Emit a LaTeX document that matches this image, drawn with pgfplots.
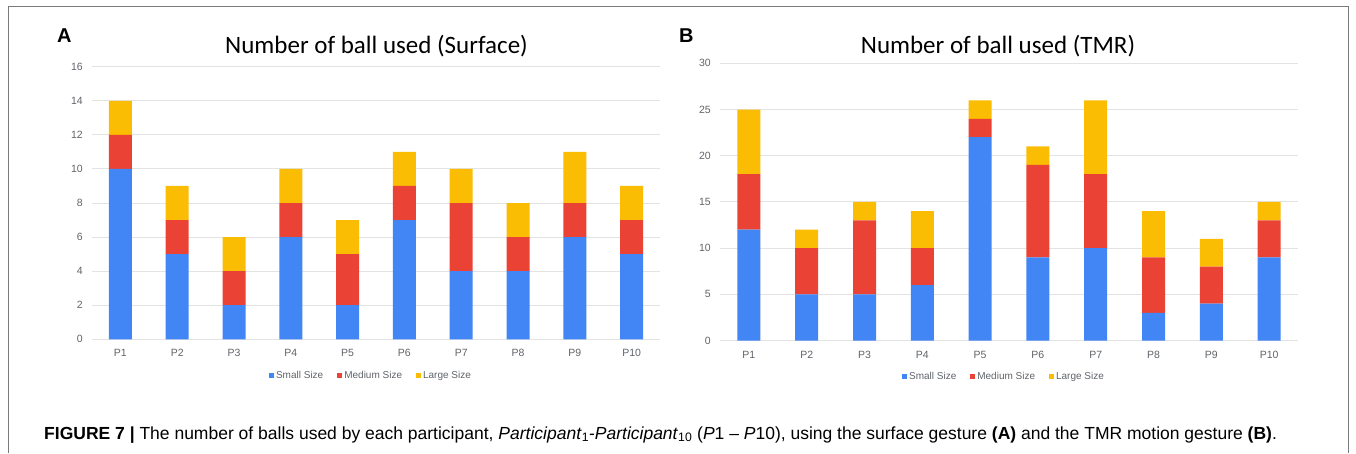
\documentclass[border=0pt]{standalone}
\usepackage{fontspec}
\setmainfont{Liberation Sans}
\newfontfamily\titlefont{Carlito}
\usepackage{pgfplots}
\usepackage{pgfplotstable}
\pgfplotsset{compat=1.18}
\definecolor{cblue}{HTML}{4285F4}
\definecolor{cred}{HTML}{EA4335}
\definecolor{cyel}{HTML}{FBBC04}
\definecolor{gridc}{HTML}{E3E3E3}
\definecolor{tickc}{HTML}{5F6368}
\definecolor{framec}{HTML}{7A7A7A}

\pgfplotstableread{
x s m l
0 10 2 2
1 5 2 2
2 2 2 2
3 6 2 2
4 2 3 2
5 7 2 2
6 4 4 2
7 4 2 2
8 6 2 3
9 5 2 2
}\dataA

\pgfplotstableread{
x s m l
0 12 6 7
1 5 5 2
2 5 8 2
3 6 4 4
4 22 2 2
5 9 10 2
6 10 8 8
7 3 6 5
8 4 4 3
9 9 4 2
}\dataB

\pgfplotsset{
  mystyle/.style={
    scale only axis, ybar stacked, bar width=23pt,
    xmin=-0.5, xmax=9.5, ymin=0,
    axis line style={draw=none},
    major tick length=0pt,
    ymajorgrids, grid style={gridc, line width=1pt},
    xtick={0,...,9},
    xticklabels={P1,P2,P3,P4,P5,P6,P7,P8,P9,P10},
    ticklabel style={font=\fontsize{10.5}{12}\selectfont, text=tickc},
    /pgf/number format/assume math mode=true,
    xticklabel style={anchor=north, inner sep=0pt, yshift=-10pt},
    yticklabel style={anchor=east, inner sep=0pt, xshift=-9pt},
    legend style={draw=none, fill=none, at={(0.5,0)}, anchor=center,
      yshift=-36pt, xshift=-5pt, legend columns=3,
      font=\fontsize{10}{12}\selectfont, text=tickc,
      /tikz/every even column/.append style={column sep=12pt},
      inner sep=0pt},
    legend image code/.code={\fill[##1] (0pt,-2.5pt) rectangle (5pt,2.5pt);},
  }
}

\begin{document}
\begin{tikzpicture}[x=1pt,y=1pt]
\useasboundingbox (0,0) rectangle (1356,453);
\draw[framec, line width=1pt] (8,0) -- (8,446) -- (1348,446) -- (1348,0);

\begin{axis}[mystyle, at={(92pt,113.7pt)}, anchor=south west,
  width=568pt, height=272.6pt, ymax=16, ytick={0,2,...,16}]
\addplot[fill=cblue, draw=none] table[x=x,y=s]{\dataA};
\addplot[fill=cred, draw=none] table[x=x,y=m]{\dataA};
\addplot[fill=cyel, draw=none] table[x=x,y=l]{\dataA};
\legend{Small Size, Medium Size, Large Size}
\end{axis}

\begin{axis}[mystyle, at={(720pt,112.4pt)}, anchor=south west,
  width=578pt, height=277.3pt, ymax=30, ytick={0,5,...,30}]
\addplot[fill=cblue, draw=none] table[x=x,y=s]{\dataB};
\addplot[fill=cred, draw=none] table[x=x,y=m]{\dataB};
\addplot[fill=cyel, draw=none] table[x=x,y=l]{\dataB};
\legend{Small Size, Medium Size, Large Size}
\end{axis}

\node[anchor=base west, inner sep=0pt] at (57,410) {\fontsize{20}{24}\selectfont\textbf{A}};
\node[anchor=base west, inner sep=0pt] at (679,410) {\fontsize{20}{24}\selectfont\textbf{B}};
\node[anchor=base, inner sep=0pt] at (376.5,399) {\titlefont\fontsize{25}{30}\selectfont Number of ball used (Surface)};
\node[anchor=base, inner sep=0pt] at (998,399.5) {\titlefont\fontsize{25}{30}\selectfont Number of ball used (TMR)};

\node[anchor=base west, inner sep=0pt] at (44,14) {\fontsize{17.5}{20}\selectfont\textbf{FIGURE 7 |} The number of balls used by each participant, \textit{Participant}\textsubscript{1}-\textit{Participant}\textsubscript{10} (\textit{P}1 – \textit{P}10), using the surface gesture \textbf{(A)} and the TMR motion gesture \textbf{(B)}.};
\end{tikzpicture}
\end{document}
